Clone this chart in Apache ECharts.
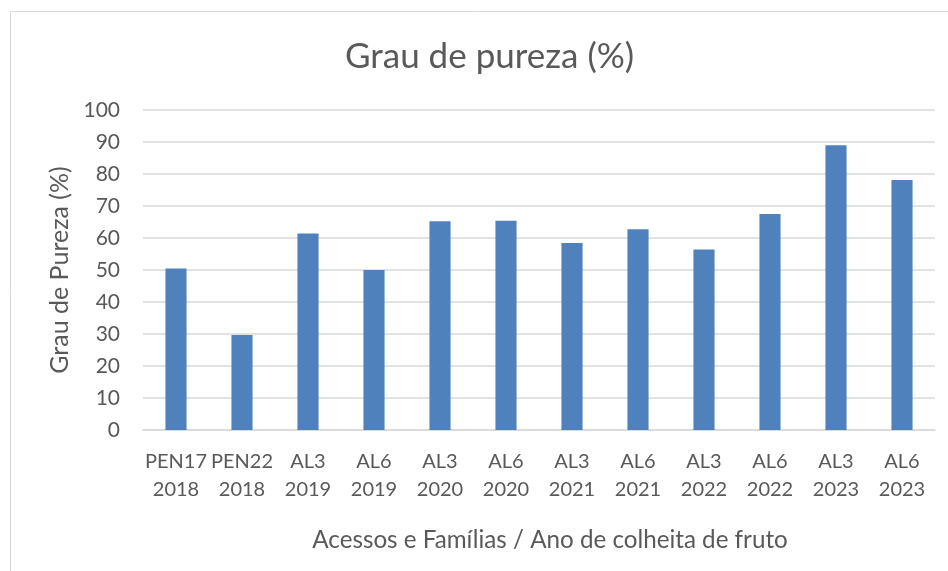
<!DOCTYPE html>
<html>
<head>
<meta charset="utf-8">
<script src="https://cdn.jsdelivr.net/npm/echarts@6/dist/echarts.min.js"></script>
<style>
  html, body { margin: 0; padding: 0; background: #fff; }
  #chart { width: 948px; height: 571px; }
</style>
</head>
<body>
<div id="chart"></div>
<script>
  // Categorias (acesso / ano de colheita)
  const categories = [
    "PEN17\n2018", "PEN22\n2018", "AL3\n2019", "AL6\n2019",
    "AL3\n2020", "AL6\n2020", "AL3\n2021", "AL6\n2021",
    "AL3\n2022", "AL6\n2022", "AL3\n2023", "AL6\n2023",
  ];
  // Grau de pureza (%)
  const pureza = [50.5, 29.7, 61.4, 50.0, 65.2, 65.4, 58.4, 62.7, 56.4, 67.5, 89.0, 78.1];

  const textColor = "#595959";
  const fontFamily = "Lato, 'Liberation Sans', sans-serif";

  const chart = echarts.init(document.getElementById("chart"), null, { renderer: "canvas" });

  const option = {
    backgroundColor: "#fff",
    animation: false,
    textStyle: { fontFamily: fontFamily, color: textColor },
    title: {
      text: "Grau de pureza (%)",
      left: 340,
      top: 34,
      textStyle: { fontSize: 35, fontWeight: "normal", color: textColor, fontFamily: fontFamily },
    },
    graphic: [
      {
        type: "rect",
        shape: { x: 10.5, y: 11.5, width: 1000, height: 700 },
        style: { fill: "none", stroke: "#d9d9d9", lineWidth: 1 },
        silent: true,
      },
    ],
    grid: { left: 143, right: 13, top: 110, bottom: 141 },
    xAxis: {
      type: "category",
      data: categories,
      name: "Acessos e Famílias / Ano de colheita de fruto",
      nameLocation: "middle",
      nameGap: 98,
      nameTextStyle: { fontSize: 24.2, color: textColor, fontFamily: fontFamily, padding: [0, 0, 0, 22] },
      axisLine: { lineStyle: { color: "#d9d9d9", width: 1.5 } },
      axisTick: { show: false },
      axisLabel: {
        interval: 0,
        fontSize: 20,
        lineHeight: 28,
        margin: 18,
        color: textColor,
        fontFamily: fontFamily,
      },
    },
    yAxis: {
      type: "value",
      min: 0,
      max: 100,
      interval: 10,
      name: "Grau de Pureza (%)",
      nameLocation: "middle",
      nameGap: 71,
      nameRotate: 90,
      nameTextStyle: { fontSize: 25, color: textColor, fontFamily: fontFamily },
      axisLine: { show: false },
      axisTick: { show: false },
      axisLabel: { fontSize: 21, margin: 23, color: textColor, fontFamily: fontFamily },
      splitLine: { lineStyle: { color: "#d9d9d9", width: 1.5 } },
    },
    series: [
      {
        name: "Grau de pureza (%)",
        type: "bar",
        data: pureza,
        barWidth: "32%",
        itemStyle: { color: "#4f81bd" },
      },
    ],
  };

  chart.setOption(option);
</script>
</body>
</html>
